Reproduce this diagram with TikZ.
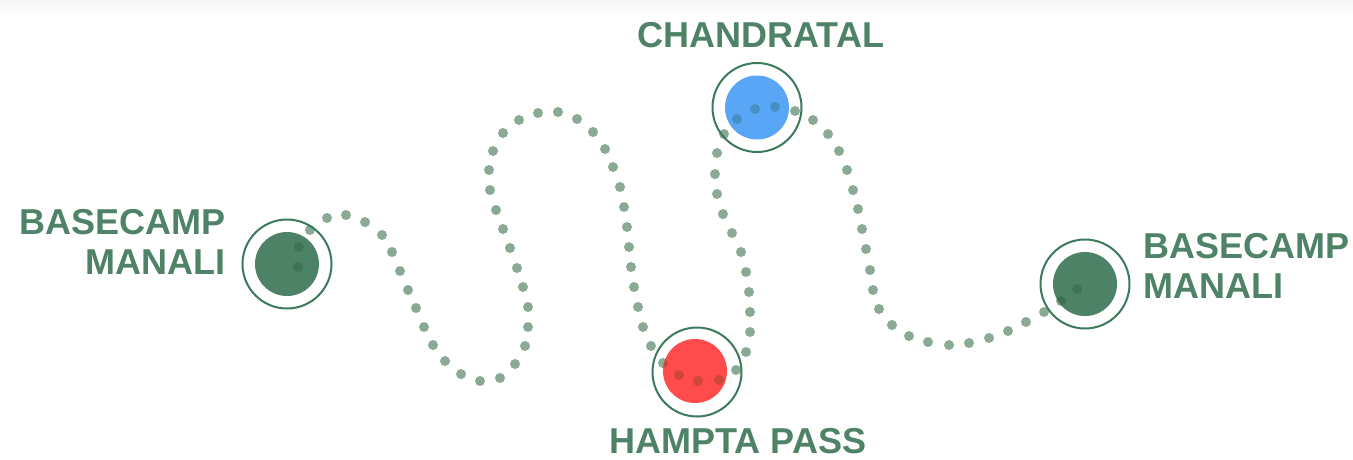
\documentclass[tikz,border=0pt]{standalone}
\usepackage{fontspec}
\setmainfont{Liberation Sans}
\definecolor{txtgreen}{RGB}{79,131,104}
\definecolor{discgreen}{RGB}{77,130,103}
\definecolor{ringgreen}{RGB}{61,122,91}
\definecolor{dotgreen}{RGB}{138,170,150}
\definecolor{discred}{RGB}{255,75,75}
\definecolor{discblue}{RGB}{88,166,245}
\begin{document}
\begin{tikzpicture}[x=1pt,y=-1pt,
  lbl/.style={font=\fontsize{36}{40}\selectfont\bfseries, text=txtgreen, inner sep=0pt},
  ringc/.style={circle, draw=ringgreen, line width=2pt, minimum size=89pt, inner sep=0pt},
  disc/.style={circle, minimum size=64pt, inner sep=0pt},
  trailpt/.style={fill=dotgreen},
  traildark/.style={fill=black!80!green, fill opacity=0.2}]
\useasboundingbox (0,0) rectangle (1353,459);
\fill[white] (0,0) rectangle (1353,459);
\shade[top color=black!3, bottom color=white] (0,0) rectangle (1353,18);
\def\trail{298/267,299/247,310/230,327/218,346/215,365/222,382/235,392/252,400/271,408/290,416/308,424/327,433/345,445/361,461/374,480/381,500/378,515/364,525/346,528/327,528/307,523/287,517/268,510/248,503/229,496/210,490/190,489/170,493/151,503/133,519/120,538/113,558/112,577/119,593/132,605/149,613/167,620/187,624/207,627/227,629/247,631/267,634/287,638/307,643/327,651/346,663/363,679/375,698/381,719/380,736/370,746/352,750/332,750/312,749/292,746/272,741/252,732/233,723/214,717/194,715/174,717/153,724/134,737/119,755/109,775/107,795/111,813/120,828/134,839/151,847/170,853/190,858/209,862/229,866/249,870/270,873/290,879/309,892/325,909/336,928/342,949/345,969/343,989/338,1008/331,1026/322,1044/312,1061/301,1077/289}
% light dotted trail
\foreach \px/\py in \trail { \fill[trailpt] (\px,\py) circle (5pt); }
% stops
\node[disc, fill=discgreen] (m1) at (287,264) {};
\node[ringc] (r1) at (m1.center) {};
\node[disc, fill=discred] (m2) at (695,371) {};
\node[ringc] (r2) at (697,372) {};
\node[disc, fill=discblue] (m3) at (757,107.5) {};
\node[ringc] (r3) at (m3.center) {};
\node[disc, fill=discgreen] (m4) at (1085,284) {};
\node[ringc] (r4) at (m4.center) {};
% trail seen through the discs
\begin{scope}
\clip (m1.center) circle (32pt) (m2.center) circle (32pt) (m3.center) circle (32pt) (m4.center) circle (32pt);
\foreach \px/\py in \trail { \fill[traildark] (\px,\py) circle (5pt); }
\end{scope}
% labels
\node[lbl, align=right, anchor=base east] (t1) at (226,274) {BASECAMP\\MANALI};
\node[lbl, anchor=base] (t2) at (738,453) {HAMPTA PASS};
\node[lbl, anchor=base] (t3) at (761,47) {CHANDRATAL};
\node[lbl, align=left, anchor=base west] (t4) at (1143,298) {BASECAMP\\MANALI};
\end{tikzpicture}
\end{document}
